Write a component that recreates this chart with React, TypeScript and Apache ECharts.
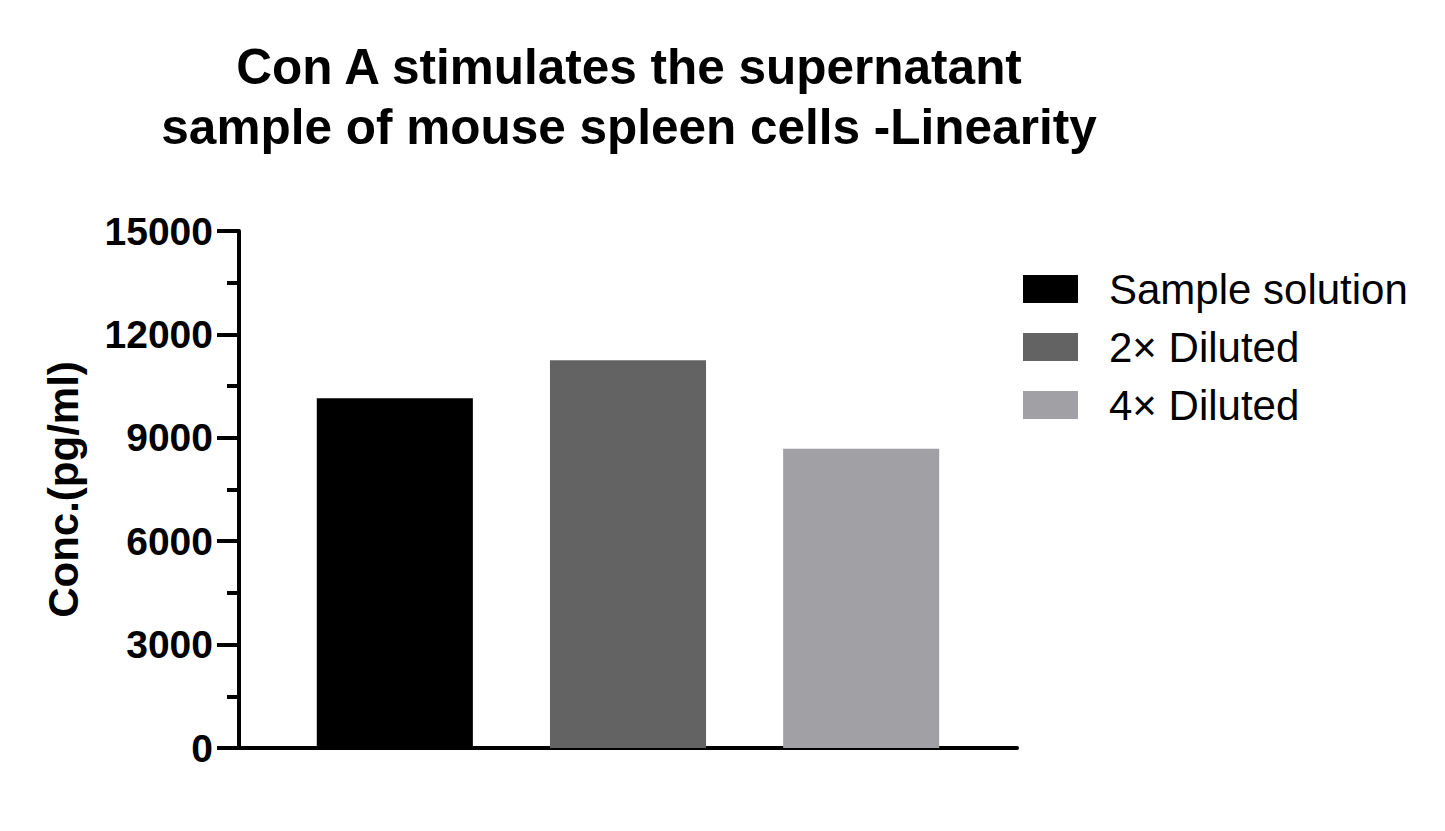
import React, { useEffect, useRef } from 'react';
import * as echarts from 'echarts';

const categories = [''];
const seriesNames = ['Sample solution', '2× Diluted', '4× Diluted'];
const sampleSolution = [10150];
const diluted2x = [11250];
const diluted4x = [8680];
const seriesColors = ['#000000', '#636363', '#a1a0a4'];

const FONT = '"Liberation Sans", Arial, sans-serif';

const App: React.FC = () => {
  const chartRef = useRef<HTMLDivElement>(null);

  useEffect(() => {
    const chart = echarts.init(chartRef.current!, undefined, { renderer: 'svg' });
    const values = [sampleSolution, diluted2x, diluted4x];

    const options = {
      animation: false,
      backgroundColor: '#ffffff',
      title: {
        text: 'Con A stimulates the supernatant\nsample of mouse spleen cells -Linearity',
        left: 624,
        top: 31,
        textAlign: 'center',
        textStyle: {
          fontFamily: FONT,
          fontWeight: 'bold',
          fontSize: 49.5,
          lineHeight: 60,
          color: '#000',
        },
      },
      legend: {
        orient: 'vertical',
        left: 1023,
        top: 268,
        padding: 0,
        itemWidth: 55,
        itemHeight: 28,
        itemGap: 16,
        icon: 'rect',
        data: seriesNames,
        textStyle: {
          fontFamily: FONT,
          fontSize: 42,
          lineHeight: 42,
          color: '#000',
          padding: [0, 0, 0, 26],
        },
      },
      grid: {
        left: 239,
        right: 428,
        top: 231,
        bottom: 83,
      },
      xAxis: {
        type: 'category',
        data: categories,
        axisLine: { show: true, lineStyle: { color: '#000', width: 4 } },
        axisTick: { show: false },
        axisLabel: { show: false },
      },
      yAxis: {
        type: 'value',
        min: 0,
        max: 15000,
        interval: 3000,
        name: 'Conc.(pg/ml)',
        nameLocation: 'middle',
        nameGap: 155,
        nameTextStyle: {
          fontFamily: FONT,
          fontWeight: 'bold',
          fontSize: 42,
          color: '#000',
        },
        axisLine: { show: true, lineStyle: { color: '#000', width: 4 } },
        axisTick: { show: true, length: 22, lineStyle: { color: '#000', width: 4 } },
        minorTick: { show: true, splitNumber: 2, length: 12, lineStyle: { color: '#000', width: 4 } },
        splitLine: { show: false },
        axisLabel: {
          margin: 26,
          formatter: (v: number) => String(v),
          fontFamily: FONT,
          fontWeight: 'bold',
          fontSize: 39,
          color: '#000',
        },
      },
      series: seriesNames.map((name, i) => ({
        name,
        type: 'bar',
        data: values[i],
        barGap: '49.4%',
        barCategoryGap: '20%',
        itemStyle: { color: seriesColors[i] },
      })),
    };

    chart.setOption(options as any);

    return () => {
      chart.dispose();
    };
  }, []);

  return (
    <div
      ref={chartRef}
      style={{ position: 'absolute', left: 0, top: 0, width: '1445px', height: '831px' }}
    />
  );
};

export default App;
